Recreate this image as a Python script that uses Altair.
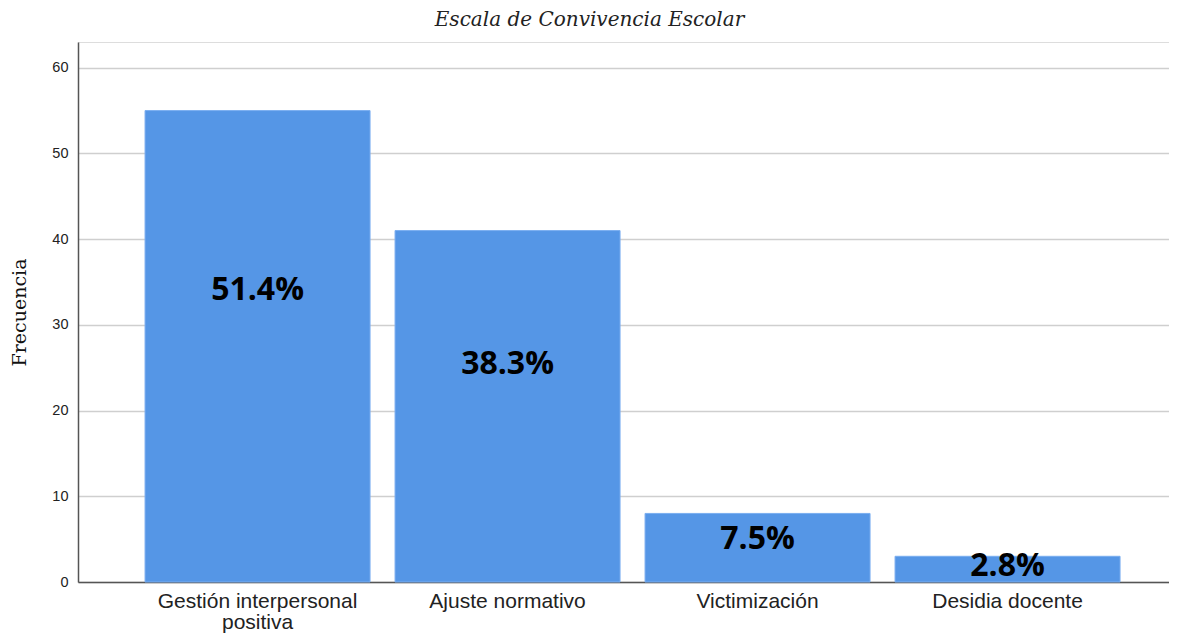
import altair as alt
import pandas as pd

categories = ["Gestión interpersonal positiva", "Ajuste normativo", "Victimización", "Desidia docente"]
frequencies = [55, 41, 8, 3]
percent_labels = ["51.4%", "38.3%", "7.5%", "2.8%"]

df = pd.DataFrame({
    "cat": categories,
    "freq": frequencies,
    "pct": percent_labels,
})

label_expr = (
    "datum.value == 'Gestión interpersonal positiva' ? ['Gestión interpersonal', 'positiva'] : datum.value"
)

x = alt.X(
    "cat:N",
    sort=categories,
    title=None,
    scale=alt.Scale(paddingInner=0.1, paddingOuter=0.232, align=0.578),
    axis=alt.Axis(
        labelAngle=0,
        labelFont="Liberation Sans",
        labelFontSize=21,
        labelColor="#222222",
        labelPadding=8,
        labelLineHeight=21,
        labelExpr=label_expr,
        ticks=False,
        domainColor="#555555",
        domainWidth=1.5,
        grid=False,
        labelLimit=400,
    ),
)

y = alt.Y(
    "freq:Q",
    title="Frecuencia",
    scale=alt.Scale(domain=[0, 63], nice=False),
    axis=alt.Axis(
        values=[0, 10, 20, 30, 40, 50, 60],
        labelFont="Liberation Sans",
        labelFontSize=14.5,
        labelColor="#222222",
        labelPadding=10,
        ticks=False,
        domainColor="#555555",
        domainWidth=1.5,
        grid=True,
        gridColor="#cfcfcf",
        gridWidth=1.5,
        titleFont="DejaVu Serif",
        titleFontWeight="normal",
        titleFontSize=19,
        titleColor="#111111",
        titlePadding=22,
    ),
)

bars = alt.Chart(df).mark_bar(color="#5596E6", stroke="#7aaef0", strokeWidth=1).encode(x=x, y=y)

texts = alt.Chart(df).transform_calculate(
    ly="datum.freq * 0.62"
).mark_text(
    font="Open Sans", fontWeight="bold", fontSize=32, color="#000000", baseline="middle"
).encode(
    x=alt.X("cat:N", sort=categories),
    y=alt.Y("ly:Q"),
    text="pct:N",
)

chart = alt.layer(bars, texts).properties(
    width=1091,
    height=540,
    title=alt.TitleParams(
        "Escala de Convivencia Escolar",
        font="DejaVu Serif",
        fontStyle="italic",
        fontWeight="normal",
        fontSize=20,
        color="#222222",
        offset=12,
        dx=-34,
    ),
    autosize=alt.AutoSizeParams(type="none"),
    padding={"left": 70, "top": 34, "right": 0, "bottom": 51},
).configure_view(stroke=None).configure(background="white")

chart.save("out.html", embed_options={"renderer": "svg", "actions": False})
